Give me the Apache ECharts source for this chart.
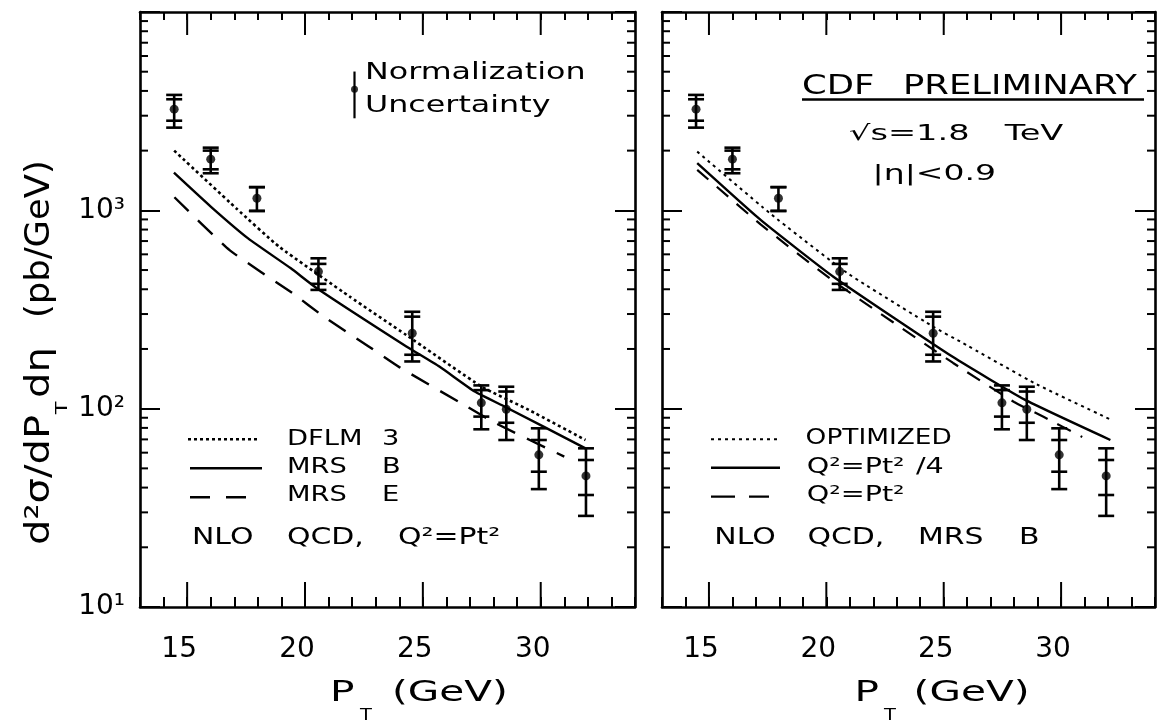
<!DOCTYPE html>
<html><head><meta charset="utf-8">
<script src="https://cdn.jsdelivr.net/npm/echarts@6/dist/echarts.min.js"></script>
<style>html,body{margin:0;padding:0;background:#fff}#c{width:1158px;height:722px}</style>
</head><body><div id="c"></div>
<script>
// ---- measured data (CDF preliminary) ----
const ptData     = [14.45, 16.0, 17.96, 20.57, 24.55, 27.48, 28.54, 29.92, 31.92];
const sigmaData  = [3236, 1811, 1151, 491, 240, 107, 99.3, 58.5, 45.8];
const errOuterHi = [3819, 2070, 1309, 573, 308, 131, 129, 79.6, 63.1];
const errOuterLo = [2612, 1538, 993, 397, 173, 78.7, 69.5, 39.3, 28.8];
const errInnerHi = [3631, 2000, 1309, 537, 291, 124, 122, 69.5, 55.1];
const errInnerLo = [2831, 1610, 993, 426, 187, 91.2, 84.9, 48.1, 36.7];

// normalization uncertainty marker
const normPt = [22.1];
const normVal = [4083];
const normHi = [5010];
const normLo = [2911];

// left panel: NLO QCD, Q^2 = Pt^2
const dflmPt  = [14.45, 17.1, 18.9, 21.9, 24.3, 27.5, 29.5, 31.9];
const dflmVal = [2000, 1019, 656, 367, 235, 129, 98.5, 69.5];
const mrsBPt  = [14.44, 16.0, 17.6, 19.4, 20.5, 24.3, 25.7, 27.2, 28.5, 31.9];
const mrsBVal = [1549, 1045, 720, 510, 405, 206, 163, 122, 102, 63.1];
const mrsEPt  = [14.46, 16.8, 19.5, 20.8, 22.7, 24.0, 26.9, 28.1, 31.0];
const mrsEVal = [1164, 630, 380, 291, 206, 162, 102, 84.3, 57.3];

// right panel: NLO QCD, MRS B
const optPt  = [14.5, 17.6, 20.9, 24.6, 25.7, 29.0, 32.15];
const optVal = [1977, 966, 482, 257, 218, 132, 87.7];
const q4Pt   = [14.5, 17.2, 20.3, 25.4, 28.45, 32.1];
const q4Val  = [1730, 895, 463, 182, 111, 69.5];
const q1Pt   = [14.5, 17.2, 20.3, 25.4, 28.0, 29.25, 30.9];
const q1Val  = [1600, 850, 440, 170, 108, 91, 72];

// axis ticks
const xMin = 13, xMax = 34;
const xMajorTicks = [15, 20, 25, 30];
const yMinorTicks = [20,30,40,50,60,70,80,90,200,300,400,500,600,700,800,900,2000,3000,4000,5000,6000,7000,8000,9000];
const yTickLabels = {1: '10¹', 2: '10²', 3: '10³'};

const FONT = 'DejaVu Sans';
const pairs = (xs, ys) => xs.map((x, i) => [x, ys[i]]);

function xAxisDef(grid, pos, labels) {
  return {
    type: 'value', gridIndex: grid, position: pos, min: xMin, max: xMax, interval: 1,
    axisLine: {show: true, onZero: false, lineStyle: {color: '#000', width: 2.6}},
    axisTick: {show: true, inside: true, length: pos === 'top' ? 8 : 10, lineStyle: {color: '#000', width: 2}},
    axisLabel: labels ? {
      show: true, margin: 29, fontSize: 28, fontFamily: FONT, color: '#000', padding: [0, 16, 0, 0],
      formatter: v => (Math.abs(v % 5) < 1e-6 ? String(v) : '')
    } : {show: false},
    splitLine: {show: false}
  };
}
function yAxisDef(grid, pos, labels) {
  return {
    type: 'log', logBase: 10, gridIndex: grid, position: pos, min: 10, max: 10000,
    axisLine: {show: true, lineStyle: {color: '#000', width: 2.6}},
    axisTick: {show: true, inside: true, length: 20, lineStyle: {color: '#000', width: 2}},
    axisLabel: labels ? {
      show: true, margin: 15, fontSize: 28, fontFamily: FONT, color: '#000',
      formatter: v => yTickLabels[Math.round(Math.log10(v))] || ''
    } : {show: false},
    splitLine: {show: false}, minorTick: {show: false}
  };
}

function minorTickRender(params, api) {
  const y = api.coord([xMin, api.value(1)])[1];
  const cs = params.coordSys;
  const st = {stroke: '#000', lineWidth: 2};
  return {type: 'group', children: [
    {type: 'line', shape: {x1: cs.x, y1: y, x2: cs.x + 8, y2: y}, style: st},
    {type: 'line', shape: {x1: cs.x + cs.width - 8, y1: y, x2: cs.x + cs.width, y2: y}, style: st}
  ]};
}
function majorXTickRender(params, api) {
  const x = api.coord([api.value(0), 100])[0];
  const cs = params.coordSys;
  const st = {stroke: '#000', lineWidth: 2};
  return {type: 'group', children: [
    {type: 'line', shape: {x1: x, y1: cs.y + cs.height, x2: x, y2: cs.y + cs.height - 25}, style: st},
    {type: 'line', shape: {x1: x, y1: cs.y, x2: x, y2: cs.y + 23}, style: st}
  ]};
}
function errorRender(params, api) {
  const x = api.value(0);
  const oh = api.coord([x, api.value(2)]);
  const ol = api.coord([x, api.value(3)]);
  const ih = api.coord([x, api.value(4)]);
  const il = api.coord([x, api.value(5)]);
  const hw = 8;
  const st = {stroke: '#000', lineWidth: 2.6};
  const cap = p => ({type: 'line', shape: {x1: p[0] - hw, y1: p[1], x2: p[0] + hw, y2: p[1]}, style: st});
  return {type: 'group', children: [
    {type: 'line', shape: {x1: oh[0], y1: oh[1], x2: ol[0], y2: ol[1]}, style: st},
    cap(oh), cap(ol), cap(ih), cap(il)
  ]};
}
function normRender(params, api) {
  const x = api.value(0);
  const h = api.coord([x, api.value(2)]);
  const l = api.coord([x, api.value(3)]);
  return {type: 'line', shape: {x1: h[0], y1: h[1], x2: l[0], y2: l[1]}, style: {stroke: '#000', lineWidth: 2.2}};
}

const errData = ptData.map((x, i) => [x, sigmaData[i], errOuterHi[i], errOuterLo[i], errInnerHi[i], errInnerLo[i]]);

function panelSeries(xi, yi, curves, withNorm) {
  const s = [
    {type: 'custom', xAxisIndex: xi, yAxisIndex: yi, renderItem: minorTickRender, data: yMinorTicks.map(v => [xMin, v]), encode: {x: 0, y: 1}, silent: true},
    {type: 'custom', xAxisIndex: xi, yAxisIndex: yi, renderItem: majorXTickRender, data: xMajorTicks.map(v => [v, 100]), encode: {x: 0, y: 1}, silent: true}
  ];
  curves.forEach(c => s.push({
    type: 'line', xAxisIndex: xi, yAxisIndex: yi, data: pairs(c.x, c.y), symbol: 'none', smooth: 0.15,
    lineStyle: {color: '#000', width: c.w, type: c.dash}
  }));
  s.push({type: 'custom', xAxisIndex: xi, yAxisIndex: yi, renderItem: errorRender, data: errData, encode: {x: 0, y: [1, 2, 3, 4, 5]}, z: 5});
  s.push({type: 'scatter', xAxisIndex: xi, yAxisIndex: yi, data: pairs(ptData, sigmaData), symbol: 'circle', symbolSize: 9, itemStyle: {color: '#000'}, z: 6});
  if (withNorm) {
    s.push({type: 'custom', xAxisIndex: xi, yAxisIndex: yi, renderItem: normRender, data: normPt.map((x, i) => [x, normVal[i], normHi[i], normLo[i]]), encode: {x: 0, y: [1, 2, 3]}});
    s.push({type: 'scatter', xAxisIndex: xi, yAxisIndex: yi, data: pairs(normPt, normVal), symbol: 'circle', symbolSize: 7, itemStyle: {color: '#000'}});
  }
  return s;
}

const series = [].concat(
  panelSeries(0, 0, [
    {x: dflmPt, y: dflmVal, w: 2.6, dash: [3, 3]},
    {x: mrsBPt, y: mrsBVal, w: 2.4, dash: 'solid'},
    {x: mrsEPt, y: mrsEVal, w: 2.4, dash: [20, 13]}
  ], true),
  panelSeries(2, 2, [
    {x: optPt, y: optVal, w: 2.0, dash: [3, 4]},
    {x: q4Pt, y: q4Val, w: 2.4, dash: 'solid'},
    {x: q1Pt, y: q1Val, w: 2.2, dash: [15, 11]}
  ], false)
);

// ---- text helpers (plotter font is wide: stretch DejaVu horizontally) ----
function txt(text, x, y, size, sx, opts) {
  opts = opts || {};
  const st = {text: text, fontFamily: FONT, fontSize: size, fill: '#000',
    align: opts.align || 'left', verticalAlign: 'middle'};
  if (opts.rich) st.rich = opts.rich;
  return {type: 'text', x: x, y: y, scaleX: sx, rotation: opts.rot || 0, style: st, z: 10};
}
function rich(size, widths) {
  const r = {};
  widths.forEach((w, i) => { r['w' + i] = {fontSize: size, fontFamily: FONT, width: w}; });
  r.e = {fontSize: size, fontFamily: FONT};
  return r;
}
function hline(x1, x2, y, w, dash) {
  return {type: 'line', shape: {x1: x1, y1: y, x2: x2, y2: y}, style: {stroke: '#000', lineWidth: w, lineDash: dash || null}, z: 10};
}

const graphics = [
  // left panel annotation
  txt('Normalization', 365, 73.4, 23, 1.38),
  txt('Uncertainty', 365, 106.5, 23, 1.38),
  // left legend
  hline(188, 258, 439.3, 2.6, [3, 3]),
  hline(190, 262, 468.3, 2.4),
  hline(190, 250, 497.3, 2.4, [20, 16]),
  txt('{w0|DFLM }{e|3}', 287, 439.2, 21, 1.3, {rich: rich(21, [73])}),
  txt('{w0|MRS }{e|B}', 287, 467.5, 21, 1.3, {rich: rich(21, [73])}),
  txt('{w0|MRS }{e|E}', 287, 495.8, 21, 1.3, {rich: rich(21, [73])}),
  txt('{w0|NLO }{w1|QCD, }{e|Q²=Pt²}', 192, 538.3, 23, 1.3, {rich: rich(23, [73, 85.4])}),
  // right panel annotation
  txt('{w0|CDF }{e|PRELIMINARY}', 802, 87.5, 26, 1.36, {rich: rich(26, [74.3])}),
  hline(802, 1144, 99.5, 2.6),
  txt('{w0|√s=1.8 }{e|TeV}', 849, 134.5, 21, 1.6, {rich: rich(21, [97.4])}),
  txt('|η|<0.9', 872.6, 174, 22, 1.5),
  // right legend
  hline(711, 777, 439.3, 2.0, [3, 4]),
  hline(711, 780, 467.7, 2.4),
  hline(711, 769, 496.7, 2.2, [24, 14]),
  txt('OPTIMIZED', 805.6, 438.3, 22, 1.2),
  txt('{w0|Q²=Pt²}{e|/4}', 806.7, 467, 22, 1.3, {rich: rich(22, [84])}),
  txt('Q²=Pt²', 806.7, 495.7, 22, 1.3),
  txt('{w0|NLO }{w1|QCD, }{w2|MRS }{e|B}', 714.3, 538.3, 23, 1.3, {rich: rich(23, [71.6, 85, 77.7])}),
  // x titles
  txt('P', 330, 694, 28, 1.45),
  txt('T', 366, 716, 15, 1.3, {align: 'center'}),
  txt('(GeV)', 392, 694, 28, 1.45),
  txt('P', 854.6, 694, 28, 1.45),
  txt('T', 890, 716, 15, 1.3, {align: 'center'}),
  txt('(GeV)', 913.6, 694, 28, 1.45),
  // y title (rotated, reads bottom to top)
  txt('d²σ/dP', 40, 545, 34, 1.18, {rot: Math.PI / 2}),
  txt('T', 63, 408, 16, 1.3, {rot: Math.PI / 2, align: 'center'}),
  txt('dη', 40, 398, 34, 1.18, {rot: Math.PI / 2}),
  txt('(pb/GeV)', 40, 318, 34, 1.04, {rot: Math.PI / 2})
];

const option = {
  animation: false,
  backgroundColor: '#fff',
  grid: [
    {left: 140, top: 12, width: 495, height: 595},
    {left: 662, top: 12, width: 494, height: 595}
  ],
  xAxis: [xAxisDef(0, 'bottom', true), xAxisDef(0, 'top', false), xAxisDef(1, 'bottom', true), xAxisDef(1, 'top', false)],
  yAxis: [yAxisDef(0, 'left', true), yAxisDef(0, 'right', false), yAxisDef(1, 'left', false), yAxisDef(1, 'right', false)],
  series: series,
  graphic: {elements: graphics}
};

const chart = echarts.init(document.getElementById('c'));
chart.setOption(option);
</script>
</body></html>
